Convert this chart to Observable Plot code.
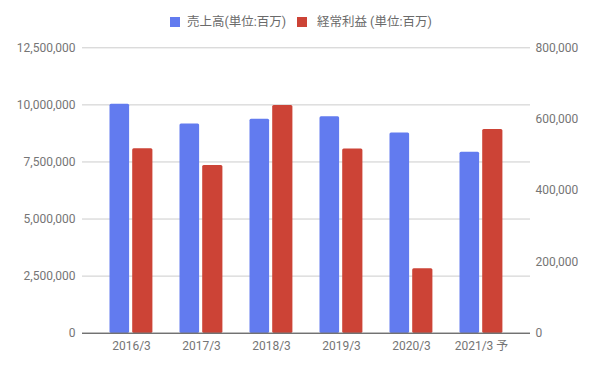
<!DOCTYPE html>
<html>
<head>
<meta charset="utf-8">
<script src="https://cdn.jsdelivr.net/npm/d3@7"></script>
<script src="https://cdn.jsdelivr.net/npm/@observablehq/plot@0.6"></script>
<style>
  html, body { margin: 0; padding: 0; background: #fff; }
  body { width: 593px; height: 368px; overflow: hidden; font-family: Roboto, "Noto Sans CJK JP", sans-serif; }
  #legend { position: relative; height: 30px; width: 593px; }
  .sw { position: absolute; width: 10px; height: 10px; top: 17px; }
  .lt { position: absolute; top: 14px; font-size: 12.5px; line-height: 16px; color: #6a6a6a; white-space: nowrap; font-family: Roboto, "Noto Sans CJK JP", sans-serif; }
  #chart svg { display: block; }
</style>
</head>
<body>
<div id="legend"></div>
<div id="chart"></div>
<script>
const categories = ["2016/3", "2017/3", "2018/3", "2019/3", "2020/3", "2021/3 予"];
const sales = [10030000, 9160000, 9370000, 9480000, 8770000, 7920000];
const profit = [517000, 470000, 638000, 516000, 181000, 571000];
const seriesNames = ["売上高(単位:百万)", "経常利益 (単位:百万)"];
const seriesColors = ["#627bef", "#cc4336"];
const leftTicks = [0, 2500000, 5000000, 7500000, 10000000, 12500000];
const rightTicks = [0, 200000, 400000, 600000, 800000];
const leftMax = 12500000;
const rightMax = 800000;

const ratio = leftMax / rightMax;
const data = categories.map((c, i) => ({cat: c, sales: sales[i], profitScaled: profit[i] * ratio}));

// legend
const legend = document.getElementById("legend");
const legendPos = [{sq: 170, tx: 187}, {sq: 297, tx: 317}];
seriesNames.forEach((n, i) => {
  const s = document.createElement("div");
  s.className = "sw";
  s.style.left = legendPos[i].sq + "px";
  s.style.background = seriesColors[i];
  legend.appendChild(s);
  const t = document.createElement("div");
  t.className = "lt";
  t.style.left = legendPos[i].tx + "px";
  t.textContent = n;
  legend.appendChild(t);
});

const fmt = d3.format(",");
const chart = Plot.plot({
  width: 593,
  height: 338,
  marginLeft: 82,
  marginRight: 63,
  marginTop: 17.3,
  marginBottom: 35.3,
  style: {fontFamily: "Roboto, 'Noto Sans CJK JP', sans-serif", fontSize: "12px", color: "#757575", background: "#fff"},
  x: {domain: categories, range: [93.8, 518.4], padding: 0, label: null},
  y: {domain: [0, leftMax], label: null},
  marks: [
    Plot.ruleY(leftTicks.slice(1), {stroke: "#cccccc", strokeWidth: 1}),
    Plot.barY(data, {x: "cat", y: "sales", fill: seriesColors[0], insetLeft: 13.5, insetRight: 36.9, rx: 1.5}),
    Plot.barY(data, {x: "cat", y: "profitScaled", fill: seriesColors[1], insetLeft: 36.2, insetRight: 13.6, rx: 1.5}),
    Plot.ruleY([0], {stroke: "#333333", strokeWidth: 1}),
    Plot.axisY(leftTicks, {anchor: "left", tickSize: 0, tickPadding: 7, tickFormat: fmt, label: null}),
    Plot.axisY(rightTicks.map(v => v * ratio), {anchor: "right", tickSize: 0, tickPadding: 5, tickFormat: d => fmt(Math.round(d / ratio)), label: null}),
    Plot.axisX({tickSize: 0, tickPadding: 8, label: null})
  ]
});
document.getElementById("chart").appendChild(chart);
</script>
</body>
</html>
